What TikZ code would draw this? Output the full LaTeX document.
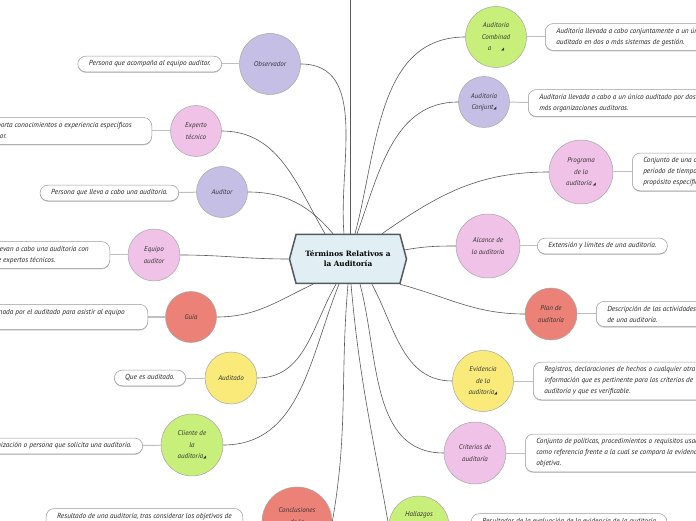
\documentclass[tikz,border=0pt]{standalone}
\usepackage{fontspec}
\setmainfont{PT Sans}
\newfontfamily\titlefont{DejaVu Serif}
\newfontfamily\markfont{DejaVu Sans}
\usetikzlibrary{shapes.symbols,shadows}
\definecolor{lila}{HTML}{C5BFE6}
\definecolor{rosa}{HTML}{F0C2E7}
\definecolor{salmon}{HTML}{EB8177}
\definecolor{amarillo}{HTML}{F9EA7A}
\definecolor{verde}{HTML}{C8EF7A}
\definecolor{hubfill}{HTML}{E1EEF4}
\definecolor{hubline}{HTML}{505A5F}
\newcommand{\marca}{{\markfont\fontsize{4}{4}\selectfont ◢}}

\begin{document}
\begin{tikzpicture}[x=1pt,y=1pt,
  hub/.style={shape=signal, signal to=west and east, signal pointer angle=150, draw=hubline, line width=1.5pt, fill=hubfill, minimum width=117pt, minimum height=49pt, inner sep=2pt, align=center, font=\titlefont\bfseries\fontsize{7.3}{10}\selectfont},
  idea/.style={circle, draw=black!35, line width=0.5pt, inner sep=0pt, align=center, text=black!80, font=\itshape\fontsize{7}{11.5}\selectfont},
  nota/.style={draw=black!40, line width=0.5pt, rounded corners=8pt, fill=white, align=left, inner xsep=11pt, inner ysep=4.5pt, text=black!85, font=\itshape\fontsize{7.3}{11}\selectfont, drop shadow={shadow xshift=0pt, shadow yshift=-1pt, fill=black!35, opacity=0.6}},
  enlace/.style={draw=black!25, line width=1pt},
  rama/.style={draw=black!65, line width=0.6pt}]
        \useasboundingbox (0,0) rectangle (696,520);
        \clip (0,0) rectangle (696,520);
        \node[hub] (c) at (348,261) {Términos Relativos a\\la Auditoría};
        % lado izquierdo
        \node[idea, fill=lila, minimum size=61pt] (obs) at (270,456) {Observador};
        \node[idea, fill=rosa, minimum size=51pt] (exp) at (196,389) {Experto\\técnico};
        \node[idea, fill=lila, minimum size=51pt] (aud) at (222,328) {Auditor};
        \node[idea, fill=rosa, minimum size=52pt] (eq) at (154,265) {Equipo\\auditor};
        \node[idea, fill=salmon, minimum size=51pt] (guia) at (191,203) {Guía};
        \node[idea, fill=amarillo, minimum size=52pt] (ado) at (231,142) {Auditado};
        \node[idea, fill=verde, minimum size=62pt] (cli) at (192,75) {Cliente de\\la\\auditoría\marca};
        \node[idea, fill=salmon, minimum size=70pt] (con) at (297,-2) {Conclusiones\\de la\\auditoría};
        \node[nota, anchor=east] (obsnota) at (222,456) {Persona que acompaña al equipo auditor.};
        \node[nota, anchor=east] (expnota) at (152,389) {Persona que aporta conocimientos o experiencia específicos\hspace*{9pt}\\al equipo auditor.};
        \node[nota, anchor=east] (audnota) at (179,327) {Persona que lleva a cabo una auditoría.};
        \node[nota, anchor=east] (eqnota) at (110,265) {Uno o más auditores que llevan a cabo una auditoría con\hspace*{10pt}\\el apoyo, si es necesario, de expertos técnicos.};
        \node[nota, anchor=east] (guianota) at (148,203) {Persona designada por el auditado para asistir al equipo\hspace*{12pt}\\auditor.};
        \node[nota, anchor=east] (adonota) at (186,142) {Que es auditado.};
        \node[nota, anchor=east] (clinota) at (143,74) {Organización o persona que solicita una auditoría.};
        \node[nota, anchor=east] (connota) at (243,-2) {Resultado de una auditoría, tras considerar los objetivos de\\la auditoría y todos los hallazgos de la auditoría.};
        % lado derecho
        \node[idea, fill=verde, minimum size=61pt] (comb) at (496,483) {Auditoría\\Combinad\\a\hspace{10pt}\marca};
        \node[idea, fill=lila, minimum size=51pt] (conj) at (484,418) {Auditoría\\Conjunt\marca};
        \node[idea, fill=rosa, minimum size=64pt] (prog) at (581,348) {Programa\\de la\\auditoría\,\marca};
        \node[idea, fill=rosa, minimum size=64pt] (alc) at (488,274) {Alcance de\\la auditoría};
        \node[idea, fill=salmon, minimum size=52pt] (plan) at (551,206) {Plan de\\auditoría};
        \node[idea, fill=amarillo, minimum size=61pt] (ev) at (483,139) {Evidencia\\de la\\auditoría\marca};
        \node[idea, fill=rosa, minimum size=62pt] (crit) at (475,67) {Criterios de\\auditoría};
        \node[idea, fill=verde, minimum size=60pt] (hal) at (419,-6) {Hallazgos\\de la\\auditoría};
        \node[nota, anchor=west] (combnota) at (545,483) {Auditoría llevada a cabo conjuntamente a un único\\auditado en dos o más sistemas de gestión.};
        \node[nota, anchor=west] (conjnota) at (528,417) {Auditoría llevada a cabo a un único auditado por dos o\\más organizaciones auditoras.};
        \node[nota, anchor=west] (prognota) at (632,348) {Conjunto de una o más auditorías planificadas para un\\período de tiempo determinado y dirigidas hacia un\\propósito específico.};
        \node[nota, anchor=west] (alcnota) at (537,274) {Extensión y límites de una auditoría.};
        \node[nota, anchor=west] (plannota) at (596,206) {Descripción de las actividades y de los detalles acordados\\de una auditoría.};
        \node[nota, anchor=west] (evnota) at (533,139) {Registros, declaraciones de hechos o cualquier otra\\información que es pertinente para los criterios de\\auditoría y que es verificable.};
        \node[nota, anchor=west] (critnota) at (525,67) {Conjunto de políticas, procedimientos o requisitos usados\\como referencia frente a la cual se compara la evidencia\\objetiva.};
        \node[nota, anchor=west] (halnota) at (471,-7) {Resultados de la evaluación de la evidencia de la auditoría\\recopilada frente a los criterios de auditoría.};
        % notas
        \foreach \a in {obs,exp,aud,eq,guia,ado,cli,con,comb,conj,prog,alc,plan,ev,crit,hal}
          \draw[enlace] (\a nota) -- (\a);
        % ramas
        \coordinate (arriba) at (350,540);
        \draw[rama] ([xshift=2pt]c.north) -- (arriba);
        \draw[rama] ([xshift=-4pt]c.north) to[out=95,in=0] (obs.east);
        \draw[rama] ([xshift=-23pt]c.north) to[out=120,in=0] (exp.east);
        \draw[rama] ([xshift=-15pt]c.north) to[out=130,in=0] (aud.east);
        \draw[rama] (c.west) to[out=180,in=0] (eq.east);
        \draw[rama] ([xshift=-35pt]c.south) to[out=-155,in=0] (guia.east);
        \draw[rama] ([xshift=-12pt]c.south) to[out=-120,in=0] (ado.east);
        \draw[rama] ([xshift=-9pt]c.south) to[out=-112,in=0] (cli.east);
        \draw[rama] (c.south) to[out=-95,in=80] (con.east);
        \draw[rama] ([xshift=3pt]c.south) to[out=-85,in=100] (hal.west);
        \draw[rama] ([xshift=12pt]c.south) to[out=-75,in=180] (crit.west);
        \draw[rama] ([xshift=24pt]c.south) to[out=-62,in=180] (ev.west);
        \draw[rama] ([xshift=52pt]c.south) to[out=-15,in=180] (plan.west);
        \draw[rama] ([xshift=-3pt,yshift=9pt]c.east) to[out=10,in=180] (alc.west);
        \draw[rama] ([xshift=34pt]c.north) to[out=35,in=180] (prog.west);
        \draw[rama] ([xshift=7pt]c.north) to[out=75,in=180] (comb.west);
        \draw[rama] ([xshift=9pt]c.north) to[out=70,in=180] (conj.west);
      \end{tikzpicture}
\end{document}
